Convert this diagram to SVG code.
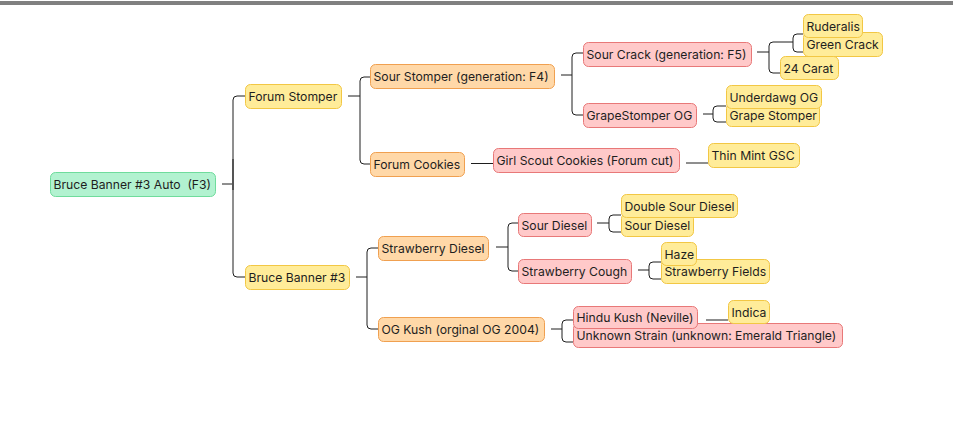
<svg xmlns="http://www.w3.org/2000/svg" width="953" height="441" viewBox="0 0 953 441">
<style>
.n rect{stroke-width:1}
.g rect{fill:#b2f2d0;stroke:#6fdc9c}
.y rect{fill:#ffec99;stroke:#f2c744}
.o rect{fill:#ffd8a8;stroke:#f0a050}
.r rect{fill:#ffc9c9;stroke:#e87878}
text{font-family:Inter,"Noto Sans","Liberation Sans",sans-serif;font-size:12.2px;fill:#1e1e1e;white-space:pre}
.c path,.c line{fill:none;stroke:#1e1e1e;stroke-width:1}
</style>
<rect x="0" y="0" width="953" height="441" fill="#ffffff"/>
<rect x="0" y="1" width="953" height="4" fill="#808080"/>
<g class="c" id="connectors">
<line x1="222" y1="184" x2="233" y2="184"/>
<path d="M245,96 H237 Q233,96 233,100 V273 Q233,277 237,277 H245"/>
<line x1="233" y1="159" x2="233" y2="190" style="stroke:#555;stroke-width:2"/>
<line x1="348" y1="96" x2="360" y2="96"/>
<path d="M370,77 H364 Q360,77 360,81 V160 Q360,164 364,164 H370"/>
<line x1="561" y1="75" x2="572" y2="75"/>
<path d="M583,53 H576 Q572,53 572,57 V111 Q572,115 576,115 H583"/>
<line x1="471" y1="163.5" x2="493" y2="163.5"/>
<line x1="757" y1="52" x2="769" y2="52"/>
<path d="M793,42 H773 Q769,42 769,46 V69 Q769,73 773,73 H780"/>
<path d="M803,34 H797 Q793,34 793,38 V48 Q793,52 797,52 H803"/>
<line x1="703" y1="114" x2="713" y2="114"/>
<path d="M726,106 H717 Q713,106 713,110 V118 Q713,122 717,122 H726"/>
<line x1="686" y1="163" x2="708" y2="163"/>
<line x1="356" y1="277" x2="367" y2="277"/>
<path d="M378,248 H371 Q367,248 367,252 V325 Q367,329 371,329 H378"/>
<line x1="496" y1="247" x2="508" y2="247"/>
<path d="M518,223 H512 Q508,223 508,227 V267 Q508,271 512,271 H518"/>
<line x1="597" y1="223" x2="609" y2="223"/>
<path d="M621,215 H613 Q609,215 609,219 V228 Q609,232 613,232 H621"/>
<line x1="638" y1="270" x2="649" y2="270"/>
<path d="M661,262 H653 Q649,262 649,266 V275 Q649,279 653,279 H661"/>
<line x1="551" y1="329" x2="562" y2="329"/>
<path d="M573,320 H566 Q562,320 562,324 V338 Q562,342 566,342 H573"/>
<line x1="706" y1="320" x2="728" y2="320"/>
</g>
<g id="root" class="n g"><rect x="50.5" y="172.5" width="165" height="24" rx="5"/><text x="53.5" y="189">Bruce Banner #3 Auto  (F3)</text></g>
<g id="forum-stomper" class="n y"><rect x="245.5" y="84.5" width="96" height="24" rx="5"/><text x="248.5" y="101">Forum Stomper</text></g>
<g id="bruce-banner-3" class="n y"><rect x="245.5" y="265.5" width="104" height="24" rx="5"/><text x="248.5" y="282">Bruce Banner #3</text></g>
<g id="sour-stomper" class="n o"><rect x="370.5" y="64.5" width="184" height="24" rx="5"/><text x="373.5" y="81">Sour Stomper (generation: F4)</text></g>
<g id="forum-cookies" class="n o"><rect x="370.5" y="152.5" width="94" height="24" rx="5"/><text x="373.5" y="169">Forum Cookies</text></g>
<g id="girl-scout" class="n r"><rect x="493.5" y="148.5" width="186" height="24" rx="5"/><text x="496.5" y="165">Girl Scout Cookies (Forum cut)</text></g>
<g id="thin-mint" class="n y"><rect x="708.5" y="143.5" width="91" height="24" rx="5"/><text x="711.5" y="160">Thin Mint GSC</text></g>
<g id="sour-crack" class="n r"><rect x="583.5" y="42.5" width="168" height="24" rx="5"/><text x="586.5" y="59">Sour Crack (generation: F5)</text></g>
<g id="grapestomper-og" class="n r"><rect x="583.5" y="103.5" width="113" height="24" rx="5"/><text x="586.5" y="120">GrapeStomper OG</text></g>
<g id="green-crack" class="n y"><rect x="803.5" y="32.5" width="79" height="24" rx="5"/><text x="806.5" y="49">Green Crack</text></g>
<g id="ruderalis" class="n y"><rect x="803.5" y="14.5" width="59" height="23" rx="5"/><text x="806.5" y="30.5">Ruderalis</text></g>
<g id="24-carat" class="n y"><rect x="780.5" y="56.5" width="58" height="23" rx="5"/><text x="783.5" y="73">24 Carat</text></g>
<g id="grape-stomper" class="n y"><rect x="726.5" y="103.5" width="93" height="23" rx="5"/><text x="729.5" y="120">Grape Stomper</text></g>
<g id="underdawg-og" class="n y"><rect x="726.5" y="85.5" width="95" height="23" rx="5"/><text x="729.5" y="102">Underdawg OG</text></g>
<g id="strawberry-diesel" class="n o"><rect x="378.5" y="236.5" width="110" height="24" rx="5"/><text x="381.5" y="253">Strawberry Diesel</text></g>
<g id="og-kush" class="n o"><rect x="378.5" y="317.5" width="166" height="24" rx="5"/><text x="381.5" y="334">OG Kush (orginal OG 2004)</text></g>
<g id="sour-diesel-r" class="n r"><rect x="518.5" y="213.5" width="73" height="23" rx="5"/><text x="521.5" y="229.5">Sour Diesel</text></g>
<g id="strawberry-cough" class="n r"><rect x="518.5" y="259.5" width="113" height="24" rx="5"/><text x="521.5" y="276">Strawberry Cough</text></g>
<g id="sour-diesel-y" class="n y"><rect x="621.5" y="213.5" width="72" height="23" rx="5"/><text x="624.5" y="229.5">Sour Diesel</text></g>
<g id="double-sour-diesel" class="n y"><rect x="621.5" y="194.5" width="116" height="23" rx="5"/><text x="624.5" y="211">Double Sour Diesel</text></g>
<g id="strawberry-fields" class="n y"><rect x="661.5" y="259.5" width="108" height="24" rx="5"/><text x="664.5" y="276">Strawberry Fields</text></g>
<g id="haze" class="n y"><rect x="661.5" y="242.5" width="35" height="23" rx="5"/><text x="664.5" y="258.5">Haze</text></g>
<g id="unknown-strain" class="n r"><rect x="573.5" y="323.5" width="269" height="24" rx="5"/><text x="576.5" y="340">Unknown Strain (unknown: Emerald Triangle)</text></g>
<g id="hindu-kush" class="n r"><rect x="573.5" y="306.5" width="124" height="22" rx="5"/><text x="576.5" y="322">Hindu Kush (Neville)</text></g>
<g id="indica" class="n y"><rect x="728.5" y="300.5" width="41" height="23" rx="5"/><text x="731.5" y="317">Indica</text></g>
</svg>
